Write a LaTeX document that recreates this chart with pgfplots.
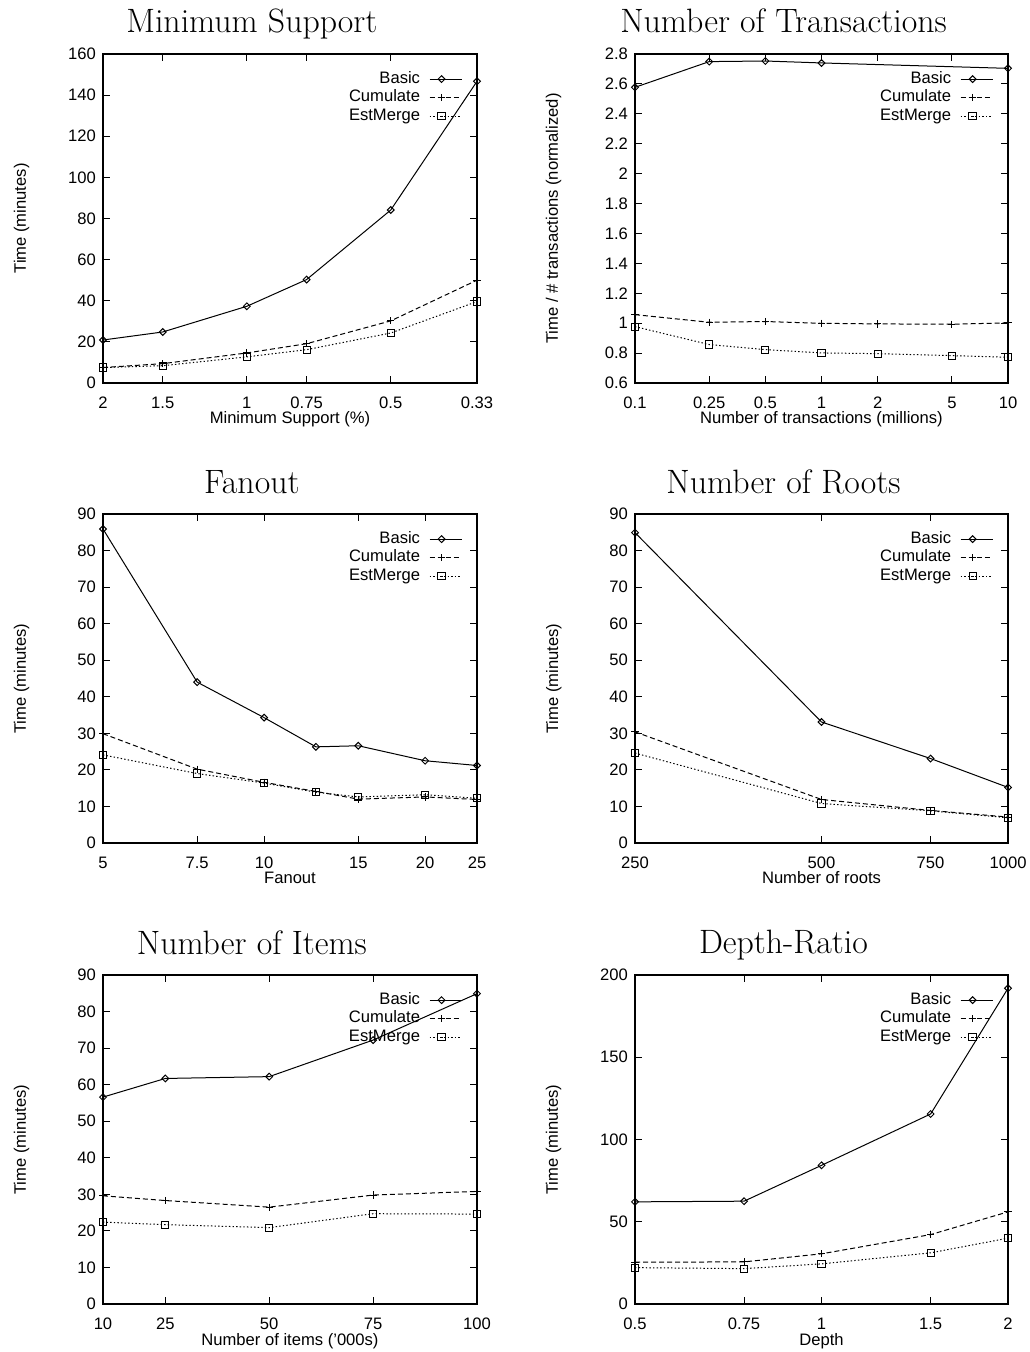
\documentclass[border=0pt]{standalone}
\usepackage{fontspec}
\setsansfont{Liberation Sans}
\usepackage{pgfplots}
\pgfplotsset{compat=1.18}
\newcommand{\gpfont}{\sffamily\fontsize{8.3}{9}\selectfont}
\pgfplotsset{
  every axis title shift=0pt,
  gp/.style={
    scale only axis,
    width=187pt, height=164.5pt,
    axis line style={line width=0.8pt},
    every tick/.style={black, line width=0.5pt},
    major tick length=3.5pt,
    tick align=inside,
    xminorticks=false, yminorticks=false,
    tick label style={font=\gpfont},
    xticklabel style={yshift=-3.5pt},
    /pgf/number format/assume math mode=true,
    label style={font=\gpfont},
    ylabel style={at={(axis description cs:-0.218,0.5)}, anchor=center},
    xlabel style={at={(axis description cs:0.5,0)}, anchor=base, yshift=-20.5pt},
    title style={at={(axis description cs:0.398,1)}, anchor=base, yshift=10.5pt, font=\rmfamily\fontsize{16.9}{19}\selectfont},
    legend style={at={(axis description cs:0.96,0.951)}, anchor=north east, draw=none, fill=none,
      inner sep=0pt, outer sep=0pt, font=\gpfont, column sep=4pt, row sep=0.25pt,
      nodes={inner sep=0.5pt, text height=6pt, text depth=2pt}},
    legend cell align=right,
    legend plot pos=right,
    legend image code/.code={\draw[mark repeat=2,mark phase=2,#1] plot coordinates {(0pt,0pt) (6pt,0pt) (16pt,0pt)};},
    clip=false,
  },
  basic/.style={black, line width=0.5pt, solid, mark=square, mark size=1.2pt, mark options={solid, rotate=45, line width=0.5pt}},
  cumul/.style={black, line width=0.5pt, dash pattern=on 2.5pt off 1.5pt, mark=+, mark size=1.8pt, mark options={solid, line width=0.5pt}},
  estm/.style={black, line width=0.5pt, dash pattern=on 0.7pt off 1.1pt, mark=square, mark size=1.8pt, mark options={solid, line width=0.5pt}},
}
\begin{document}
\begin{tikzpicture}
\useasboundingbox (0,0) rectangle (514.5pt,676pt);
% 1 Minimum Support
\begin{axis}[gp, at={(51.5pt,484.5pt)},
  title={Minimum Support},
  xmode=log, x dir=reverse, xmin=0.33, xmax=2,
  xtick={2,1.5,1,0.75,0.5,0.33}, xticklabels={2,1.5,1,0.75,0.5,0.33},
  ymin=0, ymax=160, ytick={0,20,...,160},
  xlabel={Minimum Support (\%)}, ylabel={Time (minutes)}]
\addplot[basic] coordinates {(2,20.9) (1.5,24.8) (1,37.3) (0.75,50.3) (0.5,84.1) (0.33,146.7)};
\addlegendentry{Basic}
\addplot[cumul] coordinates {(2,7.5) (1.5,9.4) (1,14.6) (0.75,19.1) (0.5,30.2) (0.33,50.0)};
\addlegendentry{Cumulate}
\addplot[estm] coordinates {(2,7.5) (1.5,8.4) (1,12.7) (0.75,16.2) (0.5,24.3) (0.33,39.6)};
\addlegendentry{EstMerge}
\end{axis}
% 2 Number of Transactions
\begin{axis}[gp, at={(317.5pt,484.5pt)}, width=186.5pt,
  title={Number of Transactions},
  xmode=log, xmin=0.1, xmax=10,
  xtick={0.1,0.25,0.5,1,2,5,10}, xticklabels={0.1,0.25,0.5,1,2,5,10},
  ymin=0.6, ymax=2.8, ytick={0.6,0.8,1,1.2,1.4,1.6,1.8,2,2.2,2.4,2.6,2.8},
  yticklabels={0.6,0.8,1,1.2,1.4,1.6,1.8,2,2.2,2.4,2.6,2.8},
  xlabel={Number of transactions (millions)}, ylabel={Time / \# transactions (normalized)}]
\addplot[basic] coordinates {(0.1,2.577) (0.25,2.749) (0.5,2.753) (1,2.740) (10,2.704)};
\addlegendentry{Basic}
\addplot[cumul] coordinates {(0.1,1.057) (0.25,1.006) (0.5,1.011) (1,0.999) (2,0.995) (5,0.993) (10,1.002)};
\addlegendentry{Cumulate}
\addplot[estm] coordinates {(0.1,0.977) (0.25,0.857) (0.5,0.823) (1,0.801) (2,0.796) (5,0.783) (10,0.772)};
\addlegendentry{EstMerge}
\end{axis}
% 3 Fanout
\begin{axis}[gp, at={(51.5pt,254.5pt)},
  title={Fanout},
  xmode=log, xmin=5, xmax=25,
  xtick={5,7.5,10,15,20,25}, xticklabels={5,7.5,10,15,20,25},
  ymin=0, ymax=90, ytick={0,10,...,90},
  xlabel={Fanout}, ylabel={Time (minutes)}]
\addplot[basic] coordinates {(5,85.9) (7.5,44.0) (10,34.3) (12.5,26.3) (15,26.6) (20,22.5) (25,21.2)};
\addlegendentry{Basic}
\addplot[cumul] coordinates {(5,29.9) (7.5,20.2) (10,16.6) (12.5,14.1) (15,12.0) (20,12.6) (25,11.9)};
\addlegendentry{Cumulate}
\addplot[estm] coordinates {(5,24.1) (7.5,19.0) (10,16.4) (12.5,13.9) (15,12.6) (20,13.2) (25,12.2)};
\addlegendentry{EstMerge}
\end{axis}
% 4 Number of Roots
\begin{axis}[gp, at={(317.5pt,254.5pt)}, width=186.5pt,
  title={Number of Roots},
  xmode=log, xmin=250, xmax=1000,
  xtick={250,500,750,1000}, xticklabels={250,500,750,1000},
  ymin=0, ymax=90, ytick={0,10,...,90},
  xlabel={Number of roots}, ylabel={Time (minutes)}]
\addplot[basic] coordinates {(250,84.9) (500,33.1) (750,23.1) (1000,15.2)};
\addlegendentry{Basic}
\addplot[cumul] coordinates {(250,30.4) (500,11.9) (750,8.9) (1000,7.1)};
\addlegendentry{Cumulate}
\addplot[estm] coordinates {(250,24.6) (500,10.8) (750,8.8) (1000,6.9)};
\addlegendentry{EstMerge}
\end{axis}
% 5 Number of Items
\begin{axis}[gp, at={(51.5pt,24pt)},
  title={Number of Items},
  xmin=10, xmax=100,
  xtick={10,25,50,75,100}, xticklabels={10,25,50,75,100},
  ymin=0, ymax=90, ytick={0,10,...,90},
  xlabel={Number of items ('000s)}, ylabel={Time (minutes)}]
\addplot[basic] coordinates {(10,56.6) (25,61.7) (50,62.2) (75,72.2) (100,84.9)};
\addlegendentry{Basic}
\addplot[cumul] coordinates {(10,29.6) (25,28.3) (50,26.5) (75,29.8) (100,30.8)};
\addlegendentry{Cumulate}
\addplot[estm] coordinates {(10,22.4) (25,21.7) (50,20.9) (75,24.7) (100,24.6)};
\addlegendentry{EstMerge}
\end{axis}
% 6 Depth-Ratio
\begin{axis}[gp, at={(317.5pt,24pt)}, width=186.5pt,
  title={Depth-Ratio},
  xmode=log, xmin=0.5, xmax=2,
  xtick={0.5,0.75,1,1.5,2}, xticklabels={0.5,0.75,1,1.5,2},
  ymin=0, ymax=200, ytick={0,50,...,200},
  xlabel={Depth}, ylabel={Time (minutes)}]
\addplot[basic] coordinates {(0.5,62.1) (0.75,62.5) (1,84.3) (1.5,115.5) (2,191.9)};
\addlegendentry{Basic}
\addplot[cumul] coordinates {(0.5,25.4) (0.75,25.6) (1,30.5) (1.5,42.2) (2,56.0)};
\addlegendentry{Cumulate}
\addplot[estm] coordinates {(0.5,22.1) (0.75,21.5) (1,24.4) (1.5,31.1) (2,40.0)};
\addlegendentry{EstMerge}
\end{axis}
\end{tikzpicture}
\end{document}
